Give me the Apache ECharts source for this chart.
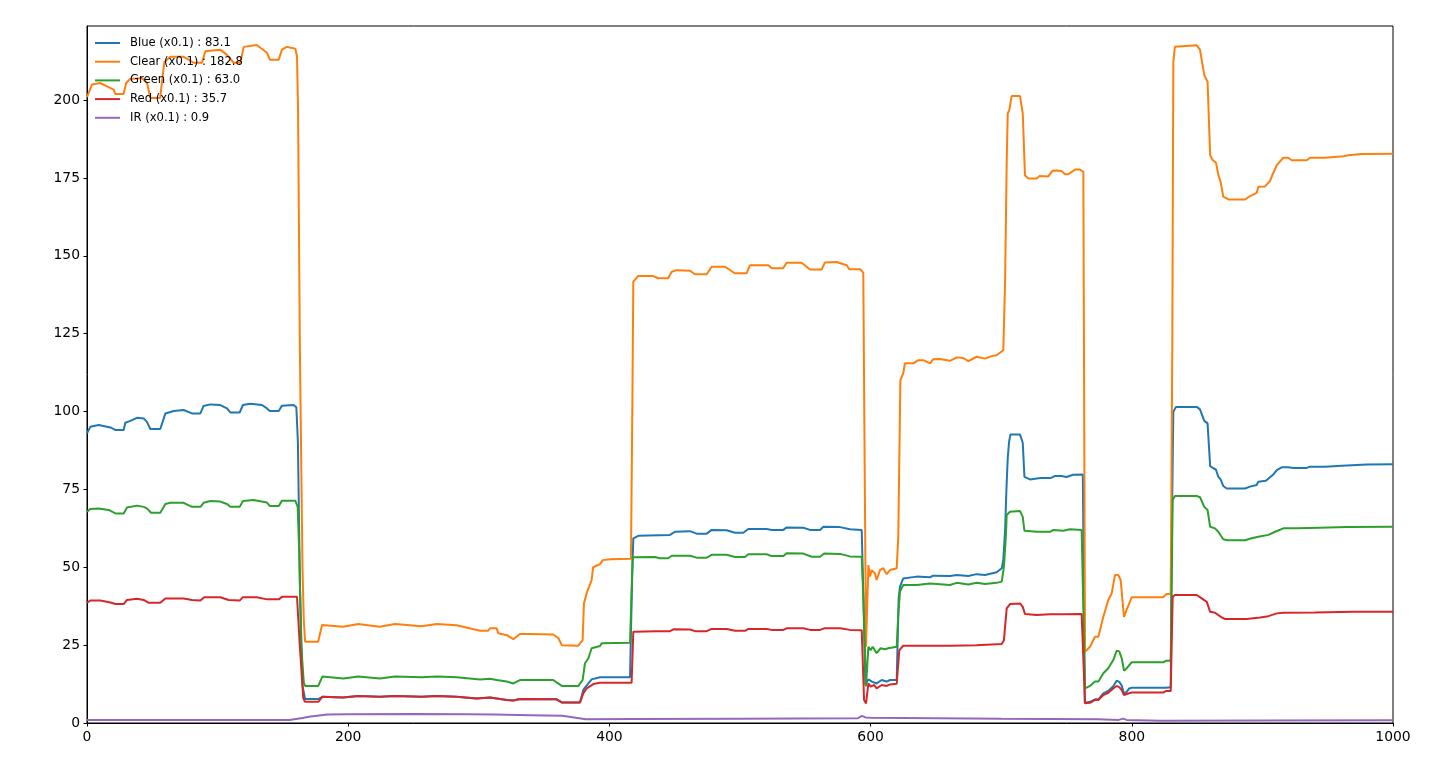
<!DOCTYPE html>
<html>
<head>
<meta charset="utf-8">
<script src="https://cdn.jsdelivr.net/npm/echarts@6/dist/echarts.min.js"></script>
<style>
  html, body { margin: 0; padding: 0; background: #fff; }
  #chart { width: 1435px; height: 760px; }
</style>
</head>
<body>
<div id="chart"></div>
<script>
// readings taken off the reference plot, [sample, value]
const blueData = [[0,93.0],[2.5,95.1],[9,95.7],[17.9,94.9],[21.7,94.1],[28.1,94.1],[29.3,96.4],[33.2,97.0],[38.3,98.0],[43.4,97.8],[45.9,96.7],[48.5,94.4],[56.1,94.4],[60,99.4],[66.4,100.2],[74,100.5],[80.4,99.4],[86.8,99.4],[89.3,101.8],[94.4,102.3],[102,102.1],[107.2,101.0],[109.7,99.7],[116.9,99.7],[119.4,102.1],[125,102.5],[134,102.1],[137.8,101.0],[139.9,100.2],[146.8,100.2],[149.3,101.9],[158.2,102.1],[160.3,101.4],[161.5,90],[163,45],[165,12],[167,7.7],[177,7.7],[180.2,8.4],[196,8.2],[207.7,8.7],[224.3,8.4],[235.8,8.7],[256.2,8.4],[267.8,8.7],[283,8.4],[298.4,7.9],[308.6,8.2],[313.7,7.9],[321.4,7.4],[326.4,7.2],[331.5,7.7],[359.6,7.6],[363.5,6.6],[377.5,6.6],[380,10.6],[383.9,12.7],[386.4,14.0],[392.8,14.7],[415.8,14.7],[417.3,45],[418.3,59.3],[422.1,60.1],[446.4,60.4],[450.2,61.4],[461.7,61.6],[466.8,60.8],[474.5,60.8],[478.3,62.0],[489.8,61.9],[496.2,61.1],[502.5,61.1],[506.4,62.3],[520.4,62.3],[524.3,62.0],[533.2,62.0],[535.7,62.8],[548.5,62.7],[553.6,62.0],[561.3,62.0],[563.8,63.0],[576.6,62.9],[584.2,62.2],[593.2,62.0],[594.5,40],[596,12.2],[598.3,14.0],[601,13.3],[604.6,12.7],[608.5,13.8],[612.3,13.3],[614.9,13.8],[620,13.8],[621.5,40],[622.5,43.8],[625,46.4],[635.3,47.0],[645.5,46.8],[648,47.3],[660.8,47.2],[666,47.5],[674.8,47.2],[681.2,47.8],[687.6,47.5],[696.5,48.4],[700.4,49.7],[701.6,52.3],[703,62],[704,75],[705,85],[706,90.2],[707,92.6],[714.4,92.6],[716.5,90],[717.8,79],[722,78.2],[730,78.7],[738,78.7],[741,79.3],[746,79.3],[750,79.0],[755,79.7],[762.5,79.8],[764,6.5],[768,6.8],[771.8,7.6],[774.4,7.6],[778.2,9.5],[782,10.3],[785.8,11.8],[788.4,13.6],[790.4,13.2],[792.3,12.0],[794,9.5],[796.1,10.0],[798,11.1],[800,11.3],[826,11.3],[829.8,11.5],[830.6,60],[831.8,99.9],[833.8,101.5],[849.7,101.5],[852.2,100.7],[855.5,97.0],[858,96.2],[860,82.5],[862.4,81.8],[864.4,81.4],[866.2,79.1],[868,78.2],[870,76.1],[872.7,75.3],[886.7,75.3],[890.5,75.9],[895.6,76.4],[896.9,77.5],[902.7,77.8],[905.8,78.9],[908.4,79.8],[911,81.2],[914.8,82.1],[919.8,82.1],[923.7,81.9],[933.9,81.9],[936.4,82.3],[947.9,82.3],[949.2,82.6],[960.7,82.6],[962,82.9],[980,83.0],[1000,83.1]];

const clearData = [[0,201],[3.8,205.0],[10,205.5],[15,204.5],[20.4,203.4],[21.7,202.0],[28,202.0],[30,205.5],[33,206.8],[42,207.1],[46,205.5],[48.5,200.7],[56,200.7],[59.2,212.2],[63.8,213.9],[74,213.9],[81.7,212.0],[88,212.0],[90.6,215.7],[102,216.2],[107,214.6],[112.3,212.0],[117.4,212.0],[120,217.1],[130,217.7],[137.8,215.2],[140,213.0],[146.8,213.0],[149.3,216.2],[153,217.1],[159.5,216.5],[160.8,214],[161.6,197],[163,120],[165,50],[166,33],[167,26.1],[177,26.1],[180,31.5],[196,30.9],[207.7,31.8],[224,30.9],[235.8,31.8],[256,31.1],[267.8,31.8],[283,31.4],[301,29.6],[307,29.6],[308.6,30.4],[313.7,30.4],[315,28.8],[321.4,28.2],[326.4,26.9],[331.5,28.6],[339,28.6],[357,28.4],[361,27.2],[363.5,25.0],[376,24.8],[379.5,26.6],[380.5,38.4],[382.6,41.7],[386.4,45.9],[387.5,50],[392.8,51.0],[395,52.3],[400.5,52.6],[416.5,52.7],[417.6,103],[418.3,141.7],[422,143.5],[433.6,143.5],[437.4,142.8],[445,142.8],[447.7,144.9],[451.5,145.4],[461.7,145.2],[465.5,144.1],[474.5,144.1],[478.3,146.5],[488.5,146.5],[496,144.4],[505,144.4],[507.7,147.0],[521.7,147.0],[524.3,146.0],[533,146.0],[535.7,147.8],[547.2,147.8],[553.6,145.6],[562.5,145.6],[565,147.9],[574,148.0],[581.7,147.0],[583.7,145.7],[592,145.7],[594.4,144.6],[595.5,80],[596.5,24.5],[598.3,50.7],[599.6,47.0],[600.8,49.1],[603.4,48.0],[604.6,45.9],[607.2,49.1],[609.7,49.7],[612.3,47.8],[614.9,49.1],[620,49.7],[621.2,60],[622.8,110.1],[625,112.3],[626.3,115.5],[632.7,115.5],[636.5,116.5],[640.4,116.5],[645.5,115.5],[648,116.8],[653,116.9],[660.8,116.3],[666,117.4],[671,117.2],[674.8,116.2],[681.2,117.6],[687.6,117.0],[692.7,117.8],[696.5,118.1],[701.6,119.7],[703,142.2],[704.2,179.7],[705,195.7],[706.2,196.8],[708,201.3],[714.4,201.3],[716.5,195.7],[718.2,175.9],[720.8,174.8],[727.2,174.8],[729.2,175.6],[736,175.5],[739.2,177.3],[742.5,177.4],[746.3,177.2],[748.9,176.2],[751.4,176.2],[756.5,177.7],[760.3,177.7],[762.9,177.0],[764.2,22.9],[768,24.5],[771.8,27.7],[774.4,27.7],[778.2,34.1],[782,39.5],[784.6,41.6],[787.1,47.5],[789.7,47.5],[791.5,45.9],[794,34.1],[796,36.3],[800,40.4],[824,40.4],[826.7,41.4],[829.8,41.4],[831,120],[831.8,212.3],[833,217.1],[849.7,217.6],[852.2,216.2],[855.5,208.0],[858,205.9],[860,182.3],[862,180.7],[864.5,179.9],[866.3,175.9],[868,173.8],[870,169.0],[874,168.1],[886.7,168.1],[890.5,169.2],[895.6,170.2],[896.9,172.2],[902,172.3],[905.8,174.0],[907.9,176.2],[911,179.1],[916,181.5],[919.8,181.5],[922.4,180.7],[933.9,180.7],[936.4,181.5],[947.9,181.5],[949.2,182.0],[962,182.0],[965.8,182.3],[976,182.7],[1000,182.8]];

const greenData = [[0,67.8],[2.5,68.7],[9,68.9],[16.6,68.4],[21.7,67.3],[28.1,67.3],[30.6,69.2],[38.3,69.8],[43.4,69.4],[45.9,68.9],[49,67.5],[56.1,67.5],[60,70.3],[63.8,70.7],[74,70.7],[80.4,69.4],[86.8,69.4],[89.3,70.7],[94.4,71.3],[102,71.1],[107.2,70.3],[109.7,69.4],[116.9,69.4],[119.4,71.3],[127.6,71.6],[137.8,70.8],[139.9,69.7],[146.8,69.7],[149.3,71.4],[159.5,71.4],[161.3,69.4],[162.5,55],[164,25],[166,13],[167,11.9],[177.1,11.9],[180.2,14.9],[196.3,14.3],[207.7,14.9],[224.3,14.3],[235.8,14.9],[256.2,14.7],[267.8,14.9],[283,14.7],[301,14.0],[308.6,14.2],[313.7,13.8],[321.4,13.3],[326.4,12.7],[331.5,13.8],[357,13.8],[363.5,11.9],[376.3,11.9],[379.5,13.8],[381.3,19.2],[383.9,20.8],[386.4,24.0],[392.8,24.7],[394.1,25.6],[415.8,25.8],[417.8,53.2],[434.9,53.3],[438.7,52.9],[445.1,52.9],[447.7,53.7],[461.7,53.7],[466.8,53.1],[474.5,53.1],[478.3,54.0],[489.8,54.0],[496.2,53.3],[503.8,53.3],[506.4,54.2],[520.4,54.2],[524.3,53.6],[533.2,53.6],[535.7,54.5],[548.5,54.4],[554.9,53.4],[561.3,53.4],[564.4,54.4],[576.6,54.3],[584.2,53.5],[593.2,53.4],[594.5,40],[596.5,11.7],[598.3,24.5],[600,23.4],[601.6,24.5],[604.6,22.4],[607.7,24.0],[611,23.7],[613.6,24.0],[620,24.5],[621.2,35],[622.5,42.2],[625,44.3],[635.3,44.3],[645.5,44.8],[660.8,44.3],[666,45.0],[674.8,44.5],[681.2,45.0],[687.6,44.6],[696.5,45.0],[700.4,45.4],[702.1,50.2],[703.7,60.9],[704.2,66.8],[706.7,67.8],[714.4,68.1],[716.5,66.2],[717.8,61.7],[727.2,61.4],[737.4,61.4],[739.9,62.0],[747.6,61.7],[752.7,62.2],[761.6,62.0],[762.8,62.0],[764.2,11.1],[768,11.9],[771.8,13.3],[774.4,13.3],[778.2,16.0],[782,17.6],[785.8,20.2],[788.4,23.2],[790.4,23.0],[792.3,20.8],[794,16.8],[796.1,17.6],[800,19.5],[824,19.5],[826.5,20.0],[829.8,20.0],[831.3,71.6],[833,72.9],[849.7,72.9],[852.2,72.5],[855.5,69.4],[858,68.4],[860,63.0],[863.7,62.5],[866.2,61.4],[870,59.0],[873.3,58.7],[886.7,58.7],[891.8,59.3],[896.9,59.8],[904.6,60.4],[909.7,61.4],[916,62.5],[926.2,62.5],[944,62.7],[964.5,62.9],[1000,63.0]];

const redData = [[0,38.6],[2.5,39.3],[10.2,39.3],[17.9,38.7],[21.7,38.2],[28.1,38.2],[30.6,39.5],[38.3,39.9],[43.4,39.5],[47.2,38.6],[56.1,38.6],[60,40.0],[74,40.0],[80.4,39.5],[86.8,39.3],[89.8,40.4],[102,40.4],[108.5,39.5],[116.9,39.3],[119.4,40.4],[130,40.4],[137.8,39.7],[146.8,39.7],[149.3,40.5],[160.8,40.5],[163,24.5],[165.6,8.0],[166.9,6.8],[177.1,6.8],[180.2,8.4],[196,8.2],[207.7,8.7],[224.3,8.4],[235.8,8.7],[256.2,8.4],[267.8,8.7],[283,8.4],[298.4,7.9],[308.6,8.2],[313.7,7.9],[321.4,7.4],[326.4,7.2],[331.5,7.7],[359.6,7.6],[363.5,6.6],[377.5,6.6],[380,9.5],[382.6,11.1],[387.7,12.5],[392.8,12.9],[417,12.9],[418.3,29.3],[436.2,29.5],[446.4,29.5],[449,30.1],[461.7,30.0],[465.5,29.5],[474.5,29.5],[478.3,30.2],[489.8,30.2],[496.2,29.6],[503.8,29.6],[506.4,30.2],[520.4,30.2],[524.3,29.9],[533.2,29.9],[535.7,30.4],[548.5,30.4],[553.6,29.9],[561.3,29.9],[564.4,30.4],[576.6,30.4],[584.2,29.9],[593.2,29.8],[595,7.4],[596.5,6.3],[598.3,12.7],[600,11.7],[602.8,12.2],[604.6,11.1],[608.5,12.2],[612.3,11.9],[614.9,12.4],[620,12.6],[622,23.4],[625,24.8],[660.8,24.8],[681.2,25.0],[700.4,25.4],[702.1,26.6],[704.2,36.8],[706.7,38.2],[714.4,38.4],[716.5,37.3],[718.2,35.0],[727.2,34.7],[737.4,34.9],[747.6,34.9],[761.6,35.0],[762.8,35.0],[764.2,6.3],[768,6.5],[771.8,7.4],[774.4,7.4],[778.2,9.0],[782,9.7],[785.8,11.1],[788.4,11.9],[790.4,11.5],[792.3,10.6],[794,9.0],[796.1,9.3],[800,9.8],[824,9.8],[826.5,10.3],[829.8,10.3],[831.3,40.5],[833,41.1],[849.7,41.1],[853.5,40.0],[857.4,38.9],[860,35.7],[863.7,35.4],[868.8,33.9],[871.4,33.4],[888,33.4],[898.2,33.9],[904.6,34.3],[911,35.2],[916,35.4],[940,35.5],[970,35.7],[1000,35.7]];

const irData = [[0,1.0],[155,1.0],[165,1.6],[170,2.0],[184,2.7],[200,2.8],[250,2.9],[290,2.8],[312,2.7],[340,2.5],[364,2.3],[382,1.2],[420,1.3],[500,1.4],[590,1.5],[593.4,2.3],[596,1.8],[600,1.7],[700,1.4],[774,1.2],[790,1.0],[793.3,1.4],[796,1.0],[822,0.7],[900,0.8],[1000,0.9]];

const seriesNames = ['Blue (x0.1) : 83.1', 'Clear (x0.1) : 182.8', 'Green (x0.1) : 63.0', 'Red (x0.1) : 35.7', 'IR (x0.1) : 0.9'];
const seriesColors = ['#1f77b4', '#ff7f0e', '#2ca02c', '#d62728', '#9467bd'];
const seriesData = [blueData, clearData, greenData, redData, irData];
const xTicks = [0, 200, 400, 600, 800, 1000];
const yTicks = [0, 25, 50, 75, 100, 125, 150, 175, 200];

const font = "'DejaVu Sans', sans-serif";
const chart = echarts.init(document.getElementById('chart'), null, { renderer: 'canvas' });

chart.setOption({
    animation: false,
    backgroundColor: '#fff',
    textStyle: { fontFamily: font, color: '#000' },
    grid: { left: 87, right: 42, top: 26, bottom: 37, show: true, borderColor: '#000', borderWidth: 1, backgroundColor: 'transparent' },
    legend: {
        orient: 'vertical', left: 95, top: 36, padding: 0,
        icon: 'rect', itemWidth: 25, itemHeight: 2, itemGap: 4.7,
        textStyle: { fontFamily: font, fontSize: 11.6, color: '#000', lineHeight: 14, padding: [0, 0, 0, 5] },
        data: seriesNames
    },
    xAxis: {
        type: 'value', min: 0, max: 1000, interval: 200,
        axisLine: { show: true, onZero: false, lineStyle: { color: '#000', width: 1 } },
        axisTick: { show: true, length: 3.5, customValues: xTicks, lineStyle: { color: '#000', width: 1 } },
        axisLabel: { fontFamily: font, fontSize: 13.9, color: '#000', margin: 7, customValues: xTicks, formatter: v => String(v) },
        splitLine: { show: false }
    },
    yAxis: {
        type: 'value', min: 0, max: 223.8, interval: 25,
        axisLine: { show: true, lineStyle: { color: '#000', width: 1 } },
        axisTick: { show: true, length: 3.5, customValues: yTicks, lineStyle: { color: '#000', width: 1 } },
        axisLabel: { fontFamily: font, fontSize: 13.9, color: '#000', margin: 7, customValues: yTicks, formatter: v => String(v) },
        splitLine: { show: false }
    },
    series: seriesNames.map((name, i) => ({
        name,
        type: 'line',
        data: seriesData[i],
        symbol: 'none',
        itemStyle: { color: seriesColors[i] },
        lineStyle: { color: seriesColors[i], width: 2 }
    }))
});
</script>
</body>
</html>
